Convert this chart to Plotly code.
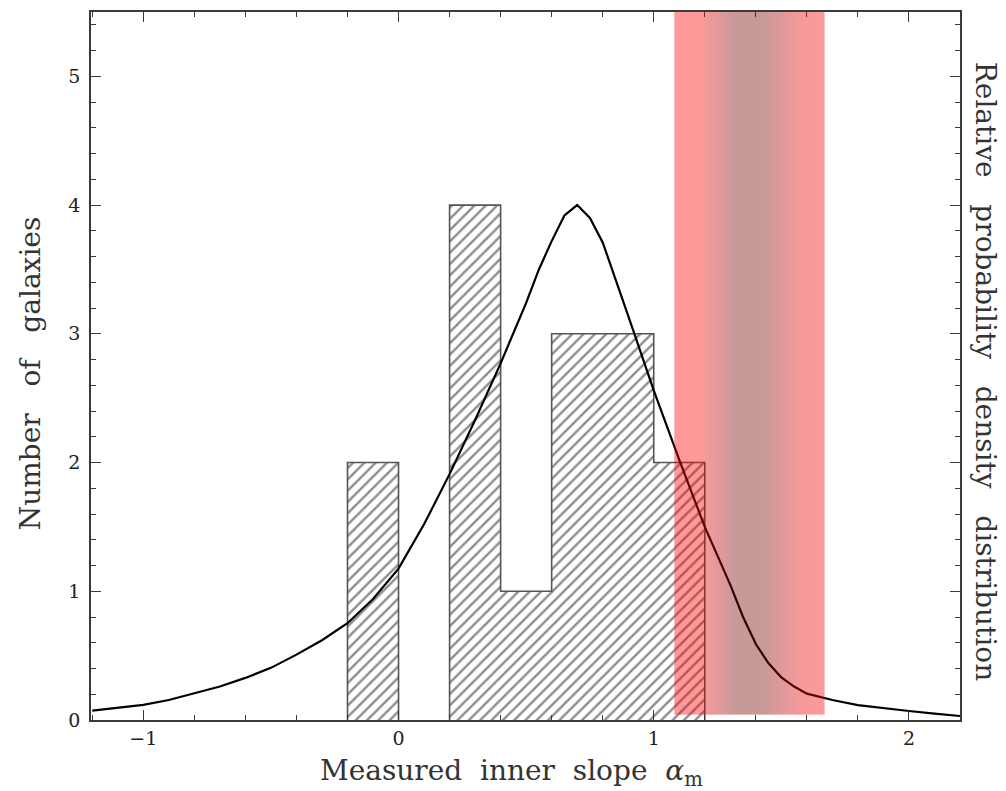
import base64
import plotly.graph_objects as go

# Histogram: bin edges and counts
bin_edges = [-0.2, 0.0, 0.2, 0.4, 0.6, 0.8, 1.0, 1.2]
counts = [2, 0, 4, 1, 3, 3, 2]

# Relative probability density curve (scaled to the count axis)
curve_x = [-1.2, -1.1, -1.0, -0.9, -0.8, -0.7, -0.6, -0.5, -0.4, -0.3, -0.2, -0.1,
           0.0, 0.1, 0.2, 0.3, 0.4, 0.5, 0.55, 0.6, 0.65, 0.7, 0.75, 0.8, 0.9,
           1.0, 1.1, 1.2, 1.3, 1.35, 1.4, 1.45, 1.5, 1.55, 1.6, 1.7, 1.8, 1.9,
           2.0, 2.1, 2.2]
curve_y = [0.073, 0.095, 0.117, 0.155, 0.207, 0.26, 0.327, 0.405, 0.508, 0.62, 0.752, 0.94,
           1.176, 1.52, 1.91, 2.33, 2.77, 3.24, 3.5, 3.72, 3.92, 4.0, 3.9, 3.71, 3.14,
           2.56, 2.02, 1.5, 1.05, 0.8, 0.59, 0.44, 0.33, 0.26, 0.205, 0.155, 0.115, 0.09,
           0.07, 0.05, 0.031]

# Shaded band (horizontal colour gradient)
band_x = [1.08, 1.67]
band_y = [0.04, 5.5]
band_grad_x = [1.08, 1.18, 1.32, 1.43, 1.57, 1.67]
band_grad_rgb = ["rgb(255,0,0)", "rgb(255,0,0)", "rgb(118,0,0)",
                 "rgb(118,0,0)", "rgb(235,0,0)", "rgb(250,0,0)"]
band_alpha = 0.4

x_range = [-1.205, 2.2]
y_range = [0, 5.5]
x_ticks = [-1, 0, 1, 2]
y_ticks = [0, 1, 2, 3, 4, 5]

FONT = "DejaVu Serif"
AX = "#3a3a3a"
NB = "\u00a0"

fig = go.Figure()

# hatched histogram fill
centers = [(bin_edges[i] + bin_edges[i + 1]) / 2 for i in range(len(counts))]
widths = [bin_edges[i + 1] - bin_edges[i] for i in range(len(counts))]
fig.add_trace(go.Bar(
    x=centers, y=counts, width=widths,
    marker=dict(color="white", line=dict(width=0),
                pattern=dict(shape="/", fgcolor="#1a1a1a", bgcolor="white",
                             size=8, solidity=0.3)),
    hoverinfo="skip", showlegend=False))

# histogram step outline, one path per run of non-empty bins
sx, sy = [], []
in_run = False
for i, c in enumerate(counts):
    if c > 0:
        if not in_run:
            sx.append(bin_edges[i]); sy.append(0)
            in_run = True
        sx += [bin_edges[i], bin_edges[i + 1]]
        sy += [c, c]
    if in_run and (i == len(counts) - 1 or counts[i + 1] == 0):
        sx += [bin_edges[i + 1], None]
        sy += [0, None]
        in_run = False
fig.add_trace(go.Scatter(x=sx, y=sy, mode="lines", connectgaps=False,
                         line=dict(color="#555555", width=1.6),
                         hoverinfo="skip", showlegend=False))

# probability curve
fig.add_trace(go.Scatter(x=curve_x, y=curve_y, mode="lines",
                         line=dict(color="black", width=2.2),
                         hoverinfo="skip", showlegend=False))

# gradient band drawn above all traces as an SVG gradient image placed in data coords
span = band_x[1] - band_x[0]
stops = "".join(
    f'<stop offset="{(gx - band_x[0]) / span:.4f}" stop-color="{gc}" stop-opacity="{band_alpha}"/>'
    for gx, gc in zip(band_grad_x, band_grad_rgb))
svg = ('<svg xmlns="http://www.w3.org/2000/svg" width="200" height="200" '
       'viewBox="0 0 200 200" preserveAspectRatio="none">'
       f'<defs><linearGradient id="g" x1="0" y1="0" x2="1" y2="0">{stops}</linearGradient></defs>'
       '<rect x="0" y="0" width="200" height="200" fill="url(#g)"/></svg>')
src = "data:image/svg+xml;base64," + base64.b64encode(svg.encode()).decode()

axis_common = dict(
    showline=True, linecolor=AX, linewidth=1.6, mirror="ticks",
    ticks="inside", ticklen=10, tickwidth=1.3, tickcolor=AX,
    showgrid=False, zeroline=False,
    tickfont=dict(family=FONT, size=19, color="#222222"),
)

fig.update_xaxes(range=x_range, tickvals=x_ticks, ticklabelstandoff=0,
                 minor=dict(dtick=0.2, tick0=0, ticks="inside", ticklen=5,
                            tickwidth=1.1, tickcolor=AX),
                 **axis_common)
fig.update_yaxes(range=y_range, tickvals=y_ticks, ticklabelstandoff=5,
                 minor=dict(dtick=0.2, tick0=0, ticks="inside", ticklen=5,
                            tickwidth=1.1, tickcolor=AX),
                 **axis_common)

tfont = dict(family=FONT, size=28, color="#333333")
fig.update_layout(
    width=1006, height=791,
    margin=dict(l=91, r=46, t=10, b=71),
    plot_bgcolor="white", paper_bgcolor="white",
    bargap=0, showlegend=False,
    images=[dict(source=src, xref="x", yref="y", x=band_x[0], y=band_y[1],
                 sizex=span, sizey=band_y[1] - band_y[0], xanchor="left", yanchor="top",
                 sizing="stretch", layer="above")],
    annotations=[
        dict(text=f"Measured{NB} inner{NB} slope{NB} <i>α</i><sub>m</sub>",
             xref="paper", yref="paper",
             x=0.484, y=-0.074, xanchor="center", yanchor="middle",
             showarrow=False, font=tfont),
        dict(text=f"Number{NB}{NB} of{NB}{NB} galaxies", xref="paper", yref="paper",
             x=-0.07, y=0.49, xanchor="center", yanchor="middle", textangle=-90,
             showarrow=False, font=tfont),
        dict(text=f"Relative{NB}{NB} probability{NB}{NB} density{NB}{NB} distribution",
             xref="paper", yref="paper",
             x=1.029, y=0.493, xanchor="center", yanchor="middle", textangle=90,
             showarrow=False, font=tfont),
    ],
)

fig.write_html("out.html")
